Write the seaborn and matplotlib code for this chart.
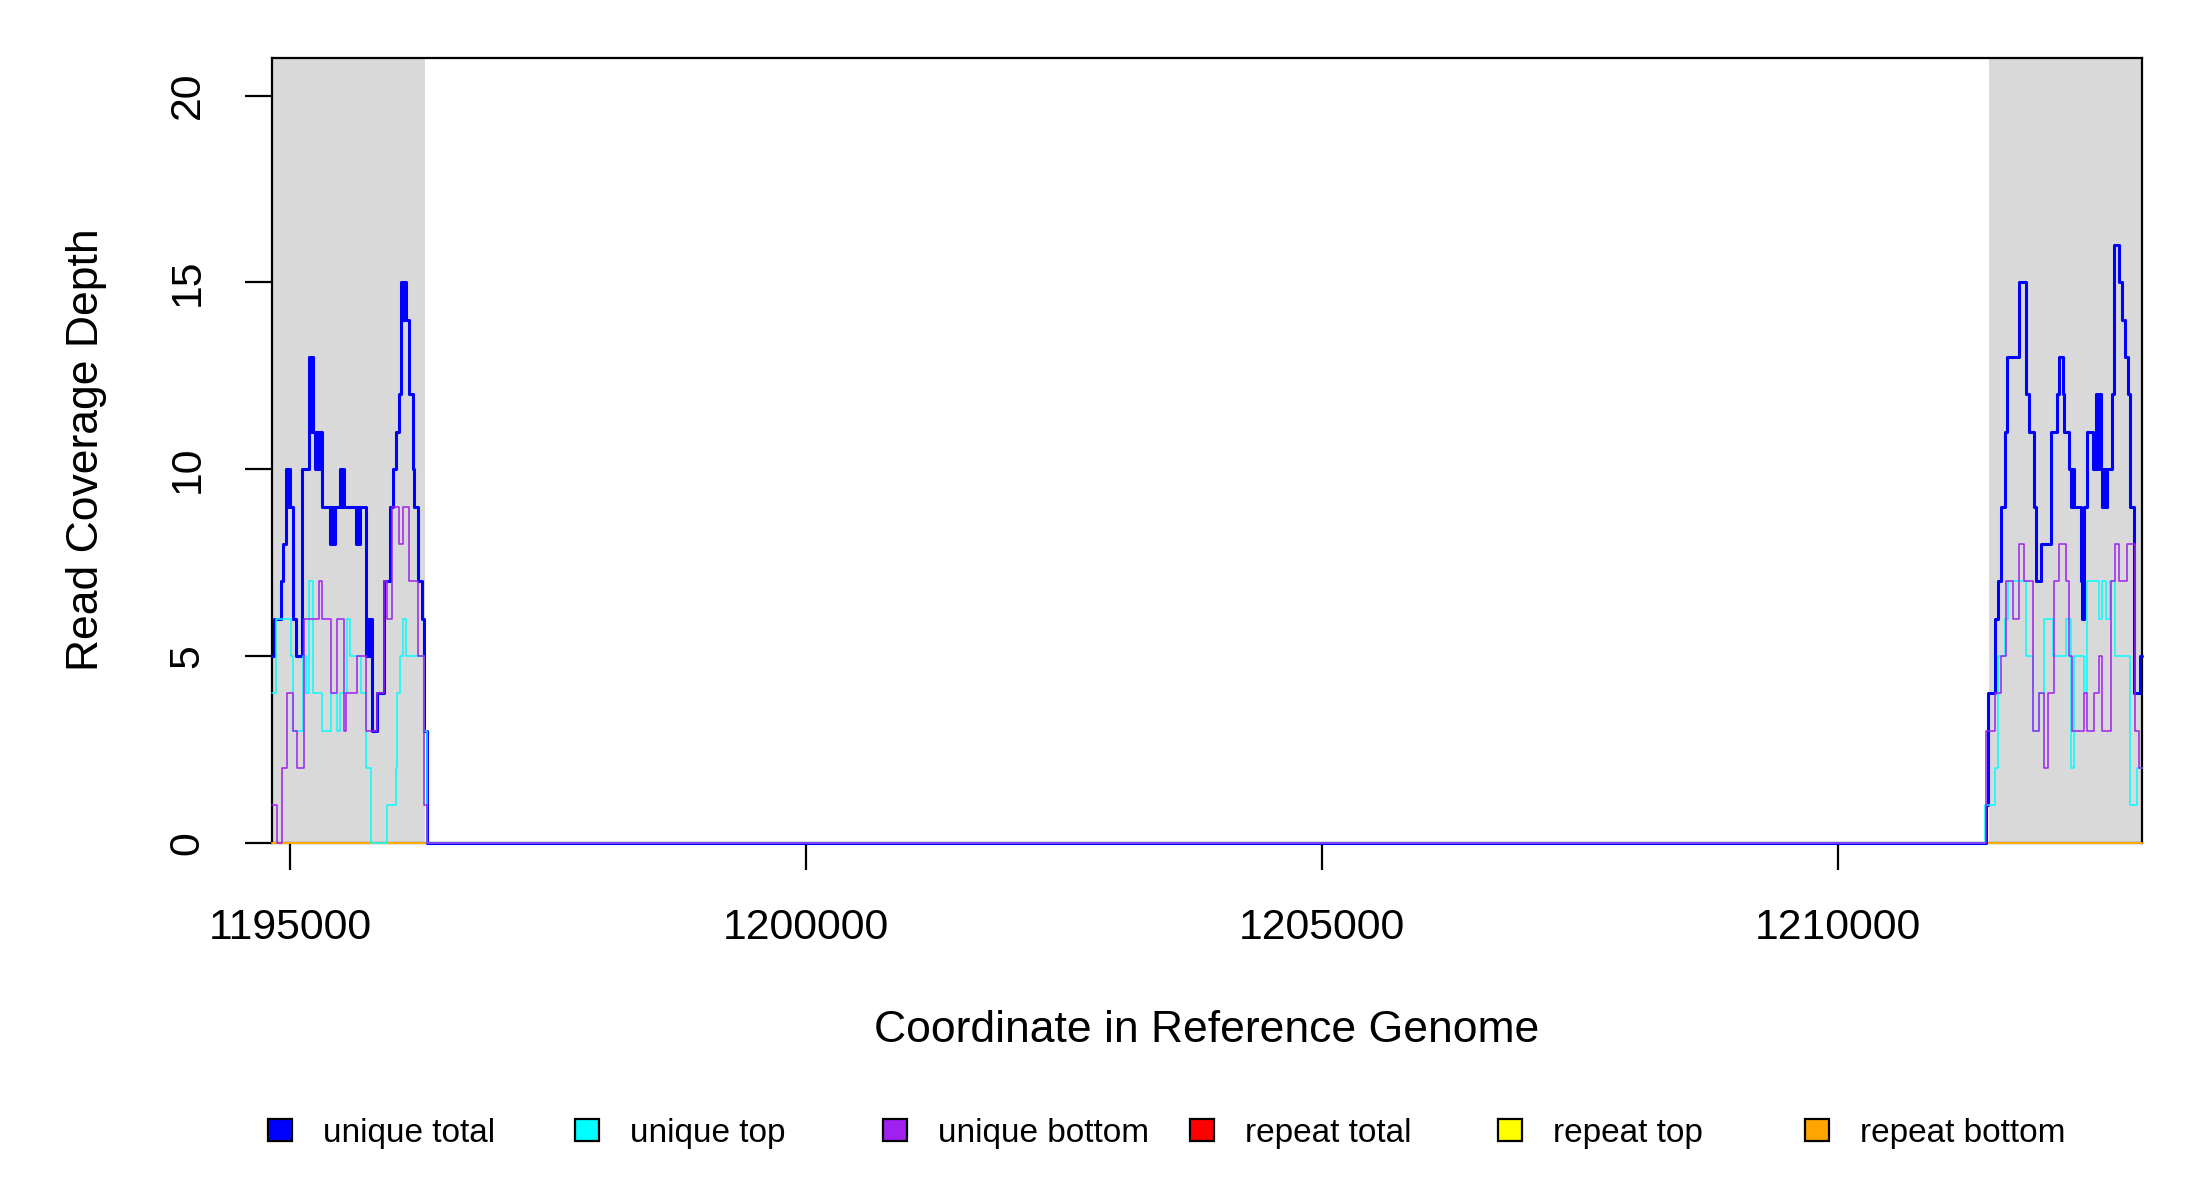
import pandas as pd
import matplotlib
matplotlib.use("Agg")
import matplotlib.pyplot as plt
import seaborn as sns
from matplotlib.patches import Patch

# -----------------------------
# Data (coverage step change points)
# -----------------------------
x_start, x_end = 1194823, 1212946
flank_left = (1194823, 1196308)
flank_right = (1211465, 1212946)

xticks = [1195000, 1200000, 1205000, 1210000]
yticks = [0, 5, 10, 15, 20]

# left flank
left_total_pos = [1194823, 1194846, 1194911, 1194937, 1194963, 1194979, 1194989, 1195002, 1195034, 1195060,
                  1195116, 1195180, 1195197, 1195207, 1195223, 1195246, 1195262, 1195278, 1195294, 1195311,
                  1195392, 1195405, 1195418, 1195441, 1195489, 1195502, 1195512, 1195528, 1195636, 1195652,
                  1195662, 1195678, 1195733, 1195749, 1195766, 1195782, 1195798, 1195847, 1195912, 1195970,
                  1196003, 1196026, 1196058, 1196074, 1196093, 1196107, 1196123, 1196156, 1196188, 1196204,
                  1196237, 1196279, 1196302, 1196330]
left_total = [5, 6, 7, 8, 10, 9, 10, 9, 6, 5,
              10, 13, 11, 13, 11, 10, 11, 10, 11, 9,
              8, 9, 8, 9, 10, 9, 10, 9, 8, 9,
              8, 9, 5, 6, 5, 6, 3, 4, 7, 9,
              10, 11, 12, 15, 14, 15, 14, 12, 10, 9,
              7, 6, 3, 0]

left_top_pos = [1194823, 1194865, 1195008, 1195034, 1195125, 1195158, 1195187, 1195220, 1195311, 1195402,
                1195457, 1195489, 1195554, 1195580, 1195684, 1195733, 1195782, 1195944, 1196026, 1196042,
                1196068, 1196100, 1196123, 1196302, 1196330]
left_top = [4, 6, 5, 3, 5, 4, 7, 4, 3, 4,
            3, 4, 6, 5, 4, 2, 0, 1, 2, 4,
            5, 6, 5, 3, 0]

left_bottom_pos = [1194823, 1194878, 1194924, 1194969, 1195034, 1195067, 1195132, 1195278, 1195311, 1195402,
                   1195457, 1195522, 1195541, 1195652, 1195733, 1195847, 1195912, 1195944, 1195993, 1196058,
                   1196091, 1196156, 1196237, 1196302, 1196325]
left_bottom = [1, 0, 2, 4, 3, 2, 6, 7, 6, 4,
               6, 3, 4, 5, 3, 4, 7, 6, 9, 8,
               9, 7, 5, 1, 0]

# right flank
right_total_pos = [1211434, 1211456, 1211527, 1211552, 1211578, 1211617, 1211642, 1211761, 1211825, 1211857,
                   1211899, 1211921, 1211970, 1212066, 1212124, 1212146, 1212188, 1212194, 1212243, 1212259,
                   1212275, 1212291, 1212355, 1212368, 1212387, 1212419, 1212477, 1212499, 1212515, 1212531,
                   1212547, 1212563, 1212580, 1212596, 1212605, 1212660, 1212682, 1212724, 1212756, 1212788,
                   1212811, 1212836, 1212875, 1212926]
right_total = [1, 4, 6, 7, 9, 11, 13, 15, 12, 11,
               9, 7, 8, 11, 12, 13, 12, 11, 10, 9,
               10, 9, 7, 6, 9, 11, 10, 12, 10, 12,
               10, 9, 10, 9, 10, 12, 16, 15, 14, 13,
               12, 9, 4, 5]

right_top_pos = [1211424, 1211520, 1211552, 1211617, 1211649, 1211825, 1211889, 1211954, 1212002, 1212082,
                 1212210, 1212259, 1212291, 1212387, 1212419, 1212531, 1212564, 1212596, 1212637, 1212692,
                 1212836, 1212900]
right_top = [1, 2, 5, 6, 7, 5, 3, 4, 6, 5,
             6, 2, 5, 4, 7, 6, 7, 6, 7, 5,
             1, 2]

right_bottom_pos = [1211440, 1211520, 1211584, 1211633, 1211697, 1211761, 1211809, 1211889, 1211954, 1212002,
                    1212034, 1212098, 1212146, 1212210, 1212243, 1212275, 1212387, 1212419, 1212483, 1212531,
                    1212564, 1212644, 1212692, 1212724, 1212804, 1212884, 1212916]
right_bottom = [3, 4, 5, 7, 6, 8, 7, 3, 4, 2,
                4, 7, 8, 7, 5, 3, 4, 3, 4, 5,
                3, 7, 8, 7, 8, 3, 2]

labels = ["unique total", "unique top", "unique bottom", "repeat total", "repeat top", "repeat bottom"]
colors = ["#0000ff", "#00ffff", "#a020f0", "#ff0000", "#ffff00", "#ffa500"]


def series(lp, lv, rp, rv):
    pos = lp + rp + [x_end]
    dep = lv + rv + [rv[-1]]
    return pd.DataFrame({"pos": pos, "depth": dep})


zero = pd.DataFrame({"pos": [x_start, x_end], "depth": [0, 0]})
frames = {
    "unique total": series(left_total_pos, left_total, right_total_pos, right_total),
    "unique top": series(left_top_pos, left_top, right_top_pos, right_top),
    "unique bottom": series(left_bottom_pos, left_bottom, right_bottom_pos, right_bottom),
    "repeat total": zero,
    "repeat top": zero,
    "repeat bottom": zero,
}

# -----------------------------
# Plot
# -----------------------------
sns.set_style("ticks")
plt.rcParams["font.family"] = ["Liberation Sans", "DejaVu Sans"]
plt.rcParams["text.color"] = "black"

fig = plt.figure(figsize=(11, 6), dpi=200)
ax = fig.add_axes([0.1235, 0.2978, 0.85, 0.6536])

ax.axvspan(*flank_left, color="#d9d9d9", lw=0, zorder=0)
ax.axvspan(*flank_right, color="#d9d9d9", lw=0, zorder=0)

draw_order = ["repeat total", "repeat top", "repeat bottom", "unique total", "unique top", "unique bottom"]
for name in draw_order:
    col = colors[labels.index(name)]
    lw = 1.1 if name == "unique total" else 0.55
    sns.lineplot(data=frames[name], x="pos", y="depth", ax=ax, color=col, linewidth=lw,
                 drawstyle="steps-post", estimator=None, legend=False, clip_on=False, zorder=3)

ax.set_xlim(x_start, x_end)
ax.set_ylim(0, 21)
ax.set_xticks(xticks)
ax.set_xticklabels([str(t) for t in xticks])
ax.set_yticks(yticks)
ax.set_yticklabels([str(t) for t in yticks], rotation=90, va="center")
ax.tick_params(axis="both", direction="out", length=9.7, width=0.8, labelsize=15.4,
               colors="black", labelcolor="black")
ax.tick_params(axis="x", pad=13.7)
ax.tick_params(axis="y", pad=13.3)
ax.set_xlabel("")
ax.set_ylabel("")
for s in ax.spines.values():
    s.set_visible(True)
    s.set_color("black")
    s.set_linewidth(0.8)

fig.text(0.5485, 0.1412, "Coordinate in Reference Genome", ha="center", va="center",
         fontsize=16, color="black")
fig.text(87 / 2200, 1 - 450 / 1200, "Read Coverage Depth", rotation=90, ha="center", va="center",
         fontsize=16, color="black")

# legend, evenly spaced like the original
for i, (lab, col) in enumerate(zip(labels, colors)):
    fig.legend(handles=[Patch(facecolor=col, edgecolor="black", linewidth=0.8, label=lab)],
               loc="center left", bbox_to_anchor=(268 / 2200 + i * 307.4 / 2200, 0.0558),
               frameon=False, fontsize=12, handlelength=0.72, handleheight=0.64,
               handletextpad=0.93, borderpad=0, borderaxespad=0, labelcolor="black")

fig.savefig("out.png", dpi=200)
